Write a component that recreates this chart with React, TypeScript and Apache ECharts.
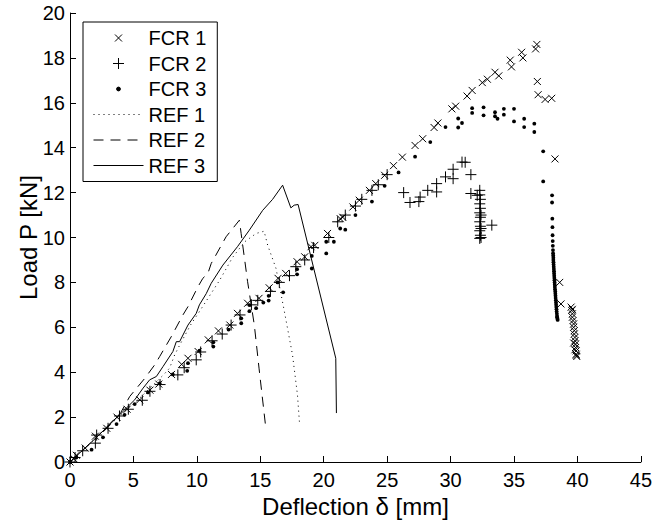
import React, { useEffect, useRef } from "react";
import * as echarts from "echarts";

const xTickInterval = 5;
const yTickInterval = 2;
const xMax = 45;
const yMax = 20;
const seriesNames = ["FCR 1", "FCR 2", "FCR 3", "REF 1", "REF 2", "REF 3"];

const FCR1: [number, number][] = [
  [0, 0], [0.3, 0.15], [0.5, 0.3], [1.2, 0.62], [2.0, 1.15], [2.9, 1.5], [3.7, 2.0], [4.5, 2.35],
  [5.5, 2.77], [6.3, 3.2], [7.0, 3.47], [8.0, 3.9], [8.8, 4.35], [9.3, 4.62], [10.1, 4.92],
  [10.9, 5.44], [11.7, 5.84], [12.6, 6.1], [13.2, 6.62], [14.0, 7.07], [14.9, 7.29], [15.7, 7.76],
  [16.4, 8.18], [17.0, 8.4], [17.9, 8.92], [18.5, 9.14], [19.0, 9.59], [19.3, 9.65], [20.3, 10.18],
  [21.3, 10.84], [21.5, 10.9], [22.3, 11.36], [22.8, 11.66], [23.6, 12.1], [24.1, 12.4], [24.8, 12.77],
  [25.5, 13.2], [26.2, 13.58], [27.2, 14.1], [27.8, 14.4], [28.7, 14.9], [29.0, 15.1], [30.1, 15.73],
  [30.4, 15.85], [31.3, 16.3], [31.7, 16.55], [32.5, 16.9], [32.9, 17.05], [33.5, 17.36], [33.8, 17.2],
  [34.7, 17.9], [34.8, 17.6], [35.6, 18.25], [35.7, 18.0], [36.8, 18.6], [36.7, 18.4],
  [36.84, 16.95], [36.9, 16.36], [37.45, 16.15], [37.97, 16.2], [38.23, 13.5], [38.6, 8.0], [38.7, 7.04],
  [39.5, 6.9], [39.55, 6.75], [39.6, 6.6], [39.6, 6.45], [39.65, 6.3], [39.7, 6.15], [39.7, 6.0],
  [39.75, 5.85], [39.75, 5.7], [39.8, 5.55], [39.8, 5.4], [39.85, 5.25], [39.85, 5.1], [39.9, 4.95],
  [39.9, 4.8], [39.95, 4.7], [39.6, 6.8], [39.7, 5.3], [39.8, 5.0], [39.9, 4.75],
];

const FCR2: [number, number][] = [
  [0, 0], [0.4, 0.2], [1.0, 0.5], [2.0, 0.84], [2.1, 1.2], [3.0, 1.5], [3.9, 2.05], [4.6, 2.35],
  [5.7, 2.75], [6.3, 3.15], [7.1, 3.45], [8.5, 3.88], [9.0, 4.2], [9.95, 4.55], [10.3, 4.9],
  [11.2, 5.4], [12.0, 5.7], [12.7, 6.1], [13.4, 6.55], [14.3, 7.0], [14.8, 7.2], [15.8, 7.6],
  [16.5, 8.0], [17.3, 8.3], [17.8, 8.7], [18.5, 9.0], [19.2, 9.55], [20.4, 10.0], [21.1, 10.7],
  [21.7, 11.0], [22.5, 11.4], [23.0, 11.7], [23.8, 12.1], [24.3, 12.35], [25.0, 12.8],
  [26.3, 12.0], [26.8, 11.56], [27.5, 11.6], [27.6, 11.8], [28.2, 12.1], [28.9, 12.4], [28.9, 12.03],
  [29.6, 12.7], [30.2, 13.04], [30.2, 12.62], [30.9, 13.36], [31.15, 13.35], [31.6, 12.8], [31.6, 11.96],
  [32.1, 11.88], [32.3, 12.1], [32.3, 11.9], [32.35, 11.7], [32.3, 11.5], [32.35, 11.3], [32.3, 11.1],
  [32.35, 10.9], [32.3, 10.7], [32.35, 10.5], [32.3, 10.3], [32.35, 10.1], [32.3, 9.96], [32.4, 10.0],
  [32.4, 11.0], [32.4, 10.4], [33.25, 10.55],
];

const FCR3: [number, number][] = [
  [0, 0], [0.5, 0.2], [1.7, 0.55], [2.6, 1.1], [3.67, 1.69], [4.3, 2.1], [5.1, 2.58], [6.15, 3.1],
  [7.07, 3.5], [8.1, 3.9], [9.24, 4.06], [9.3, 4.4], [10.2, 4.96], [11.3, 5.14], [11.3, 5.33],
  [12.5, 5.9], [13.5, 6.18], [13.5, 6.4], [14.14, 6.72], [14.14, 6.99], [14.67, 6.85], [15.24, 7.1],
  [15.66, 7.19], [15.66, 7.4], [16.36, 8.0], [16.8, 7.56], [17.9, 8.36], [17.9, 8.59], [19.06, 8.62],
  [19.06, 9.18], [20.2, 9.29], [20.2, 9.81], [20.8, 9.81], [21.3, 10.4], [21.7, 10.35], [22.5, 11.0],
  [23.8, 11.6], [24.8, 12.3], [25.9, 12.9], [27.2, 13.6], [28.4, 14.25], [29.6, 14.92], [30.6, 15.3],
  [30.6, 14.9], [30.9, 15.1], [31.7, 15.76], [31.7, 15.55], [32.6, 15.8], [32.6, 15.44], [33.5, 15.58],
  [33.5, 15.4], [33.7, 15.29], [34.2, 15.73], [34.2, 15.47], [35.0, 15.73], [35.0, 15.17], [35.8, 15.29],
  [35.8, 14.92], [36.6, 15.07], [36.6, 14.7], [37.3, 13.84], [37.3, 12.5], [38.0, 11.88], [38.0, 11.56],
  [38.02, 10.84], [38.03, 10.46], [38.04, 10.1], [38.05, 9.84], [38.06, 9.63], [38.07, 9.44],
  [38.08, 9.3], [38.09, 9.2], [38.1, 9.1], [38.1, 9.0], [38.11, 8.9], [38.12, 8.8], [38.13, 8.7],
  [38.14, 8.6], [38.15, 8.5], [38.16, 8.4], [38.17, 8.3], [38.18, 8.2], [38.19, 8.1], [38.2, 8.0],
  [38.21, 7.9], [38.22, 7.8], [38.23, 7.7], [38.25, 7.6], [38.26, 7.5], [38.27, 7.4], [38.28, 7.3],
  [38.3, 7.2], [38.31, 7.1], [38.32, 7.0], [38.33, 6.9], [38.35, 6.8], [38.36, 6.7], [38.38, 6.6],
  [38.39, 6.5], [38.4, 6.45], [38.42, 6.38], [38.44, 6.33],
];

const REF1: [number, number][] = [
  [0, 0], [2, 1.05], [4, 2.1], [5.5, 2.85], [6.5, 3.4], [7.4, 3.9], [7.85, 4.18], [8.25, 4.77],
  [8.64, 5.2], [9.5, 6.1], [10.2, 6.7], [11.0, 7.4], [11.8, 8.1], [12.8, 9.1], [13.75, 9.8],
  [14.67, 10.18], [15.3, 10.28], [15.58, 9.66], [16.24, 8.62], [16.9, 6.7], [17.54, 4.77],
  [17.93, 2.99], [18.1, 1.66],
];

const REF2: [number, number][] = [
  [0, 0], [2, 1.05], [4, 2.2], [4.71, 2.92], [5.9, 3.73], [6.68, 4.33], [7.07, 4.7], [8.0, 5.6],
  [8.9, 6.55], [9.3, 6.92], [10.08, 7.8], [10.47, 8.18], [10.87, 8.4], [11.13, 8.84], [12.3, 10.03],
  [13.35, 10.77], [13.49, 10.18], [14.0, 8.03], [14.53, 6.1], [14.9, 4.18], [15.45, 1.44],
];

const REF3: [number, number][] = [
  [0, 0], [2, 1.05], [4, 2.15], [5.1, 2.77], [5.76, 3.29], [6.28, 3.66], [6.81, 3.81], [7.33, 4.25],
  [8.11, 4.92], [8.38, 5.36], [8.64, 5.36], [9.3, 6.1], [9.95, 6.62], [10.2, 7.0], [10.74, 7.5],
  [11.13, 7.96], [12.05, 8.77], [13.2, 9.59], [14.14, 10.33], [15.19, 11.21], [15.97, 11.7],
  [16.76, 12.33], [17.41, 11.32], [17.67, 11.44], [17.98, 11.47], [20.95, 4.62], [21.0, 2.18],
];

const FONT = "'Liberation Sans', Arial, Helvetica, sans-serif";
const X_SYMBOL = "path://M0,0L0,0M3.5,3.5L10.5,10.5M10.5,3.5L3.5,10.5M14,14L14,14";
const PLUS_SYMBOL = "path://M0,0L0,0M7,1.5L7,12.5M1.5,7L12.5,7M14,14L14,14";
const DOT_SYMBOL = "path://M0,0L0,0M8.9,7A1.9,1.9,0,1,1,5.1,7A1.9,1.9,0,1,1,8.9,7ZM14,14L14,14";
const CLEAR = "rgba(0,0,0,0)";

export default function App() {
  const ref = useRef<HTMLDivElement>(null);
  useEffect(() => {
    document.body.style.margin = "0";
    if (!ref.current) return;
    const chart = echarts.init(ref.current, undefined, { renderer: "svg" });
    const scatter = (name: string, data: [number, number][], symbol: string, bw: number) => ({
      name,
      type: "scatter",
      data,
      symbol,
      symbolSize: 14,
      itemStyle: { color: "#000", borderColor: "#000", borderWidth: bw, opacity: 1 },
      emphasis: { disabled: true },
    });
    const line = (name: string, data: [number, number][], type: any) => ({
      name,
      type: "line",
      data,
      symbol: "none",
      lineStyle: { color: "#000", width: 1, type },
      itemStyle: { color: CLEAR, borderColor: CLEAR, borderWidth: 0 },
      emphasis: { disabled: true },
    });
    chart.setOption({
      animation: false,
      backgroundColor: "#fff",
      textStyle: { fontFamily: FONT },
      grid: { left: 70, right: 12, top: 13, bottom: 59, containLabel: false },
      legend: {
        orient: "vertical",
        left: 83,
        top: 22,
        padding: [6, 11, 6, 10],
        itemWidth: 50,
        itemHeight: 14,
        itemGap: 5.5,
        backgroundColor: "#fff",
        borderColor: "#000",
        borderWidth: 1,
        borderRadius: 0,
        selectedMode: false,
        textStyle: { fontSize: 20, color: "#000", fontFamily: FONT },
        itemStyle: { borderWidth: 1 },
        lineStyle: { width: 1 },
        data: seriesNames,
      },
      xAxis: {
        type: "value",
        min: 0,
        max: xMax,
        interval: xTickInterval,
        name: "Deflection δ [mm]",
        nameLocation: "middle",
        nameGap: 32,
        nameMoveOverlap: false,
        nameTextStyle: { fontSize: 24, color: "#000", fontFamily: FONT },
        axisLine: { show: true, lineStyle: { color: "#000", width: 1 } },
        axisTick: { show: true, inside: true, length: 6, lineStyle: { color: "#000" } },
        axisLabel: { fontSize: 20, color: "#000", margin: 8, fontFamily: FONT },
        splitLine: { show: false },
      },
      yAxis: {
        type: "value",
        min: 0,
        max: yMax,
        interval: yTickInterval,
        name: "Load P [kN]",
        nameLocation: "middle",
        nameGap: 30,
        nameMoveOverlap: false,
        nameTextStyle: { fontSize: 24, color: "#000", fontFamily: FONT },
        axisLine: { show: true, lineStyle: { color: "#000", width: 1 } },
        axisTick: { show: true, inside: true, length: 6, lineStyle: { color: "#000" } },
        axisLabel: { fontSize: 20, color: "#000", margin: 5, fontFamily: FONT },
        splitLine: { show: false },
      },
      series: [
        scatter(seriesNames[0], FCR1, X_SYMBOL, 1),
        scatter(seriesNames[1], FCR2, PLUS_SYMBOL, 1),
        scatter(seriesNames[2], FCR3, DOT_SYMBOL, 0),
        line(seriesNames[3], REF1, [1, 4]),
        line(seriesNames[4], REF2, [10, 7]),
        line(seriesNames[5], REF3, "solid"),
      ],
    });
    return () => chart.dispose();
  }, []);
  return <div ref={ref} style={{ width: 655, height: 523 }} />;
}
